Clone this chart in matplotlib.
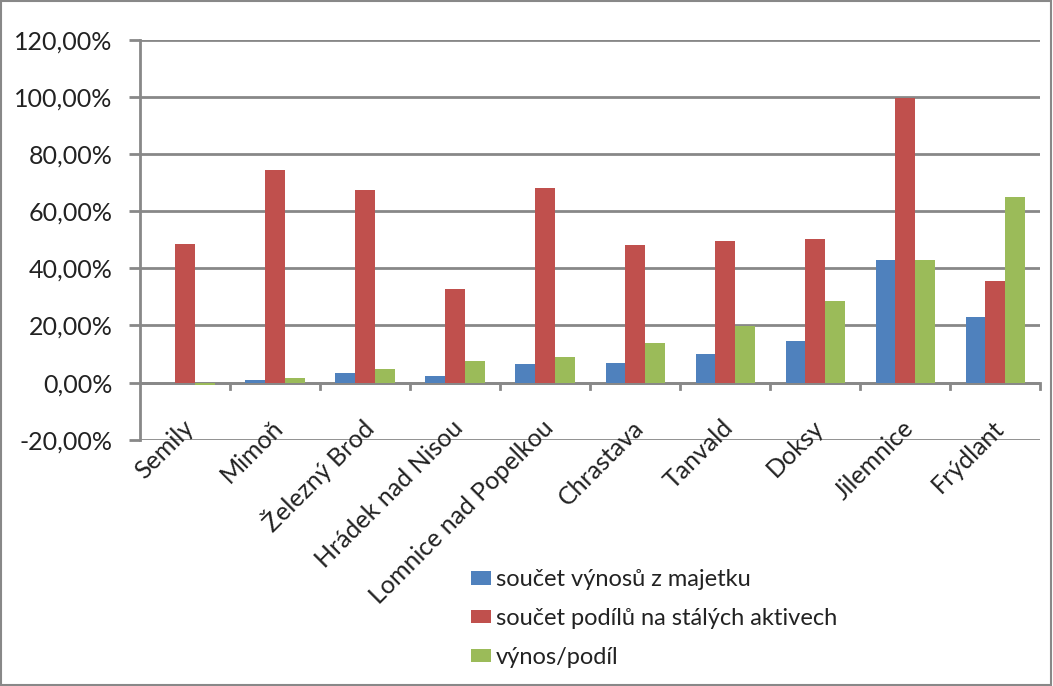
import numpy as np
import matplotlib.pyplot as plt
from matplotlib.ticker import FuncFormatter
from matplotlib.patches import Rectangle

mesta = ['Semily', 'Mimoň', 'Železný Brod', 'Hrádek nad Nisou', 'Lomnice nad Popelkou',
         'Chrastava', 'Tanvald', 'Doksy', 'Jilemnice', 'Frýdlant']
vynosy = [0.0, 0.9, 3.4, 2.4, 6.5, 6.8, 10.0, 14.5, 43.0, 22.9]
podily = [48.5, 74.5, 67.5, 32.8, 68.2, 48.3, 49.6, 50.1, 99.6, 35.4]
vynos_podil = [-1.0, 1.5, 4.7, 7.7, 9.1, 14.0, 19.9, 28.7, 43.0, 64.8]
nazvy = ['součet výnosů z majetku', 'součet podílů na stálých aktivech', 'výnos/podíl']
barvy = ['#4F81BD', '#C0504D', '#9BBB59']

plt.rcParams['font.family'] = ['Lato', 'DejaVu Sans']
fs = 18
seda = '#888888'

fig = plt.figure(figsize=(10.53, 6.86), dpi=100)
ax = fig.add_axes([0.133, 0.359, 0.855, 0.583])

x = np.arange(len(mesta))
w = 0.22
for i, (vals, nazev, barva) in enumerate(zip([vynosy, podily, vynos_podil], nazvy, barvy)):
    ax.bar(x + (i - 1) * w, vals, w, color=barva, label=nazev, zorder=3)

ax.set_ylim(-20, 120)
ax.set_yticks(np.arange(-20, 121, 20))
ax.yaxis.set_major_formatter(FuncFormatter(lambda v, p: f'{v:.2f}%'.replace('.', ',')))
ax.set_xlim(-0.5, len(mesta) - 0.5)
ax.set_xticks([])
ax.tick_params(axis='y', length=8, color=seda, width=2, labelsize=fs, pad=12, labelcolor='#222222')

for i, m in enumerate(mesta):
    ax.text(i + 0.05, -14.5, m, rotation=45, rotation_mode='anchor', ha='right', va='center',
            fontsize=fs, color='#222222')

ax.grid(axis='y', color=seda, linewidth=2, zorder=0)
for s in ['top', 'right', 'bottom']:
    ax.spines[s].set_visible(False)
ax.spines['left'].set_color(seda)
ax.spines['left'].set_linewidth(2)
ax.axhline(0, color=seda, linewidth=2, zorder=2.5)
for xb in np.arange(-0.5, len(mesta), 1.0)[1:]:
    ax.plot([xb, xb], [0, -2.3], color=seda, linewidth=2, zorder=4, clip_on=False)

fig.legend(loc='upper left', bbox_to_anchor=(0.427, 0.201), frameon=False, fontsize=17,
           handlelength=0.85, handleheight=0.5, handletextpad=0.2, labelspacing=0.75,
           labelcolor='#222222')

fig.patches.append(Rectangle((0.001, 0.001), 0.997, 0.997, transform=fig.transFigure,
                             fill=False, edgecolor=seda, linewidth=1.5))

fig.savefig('out.png', dpi=100)
